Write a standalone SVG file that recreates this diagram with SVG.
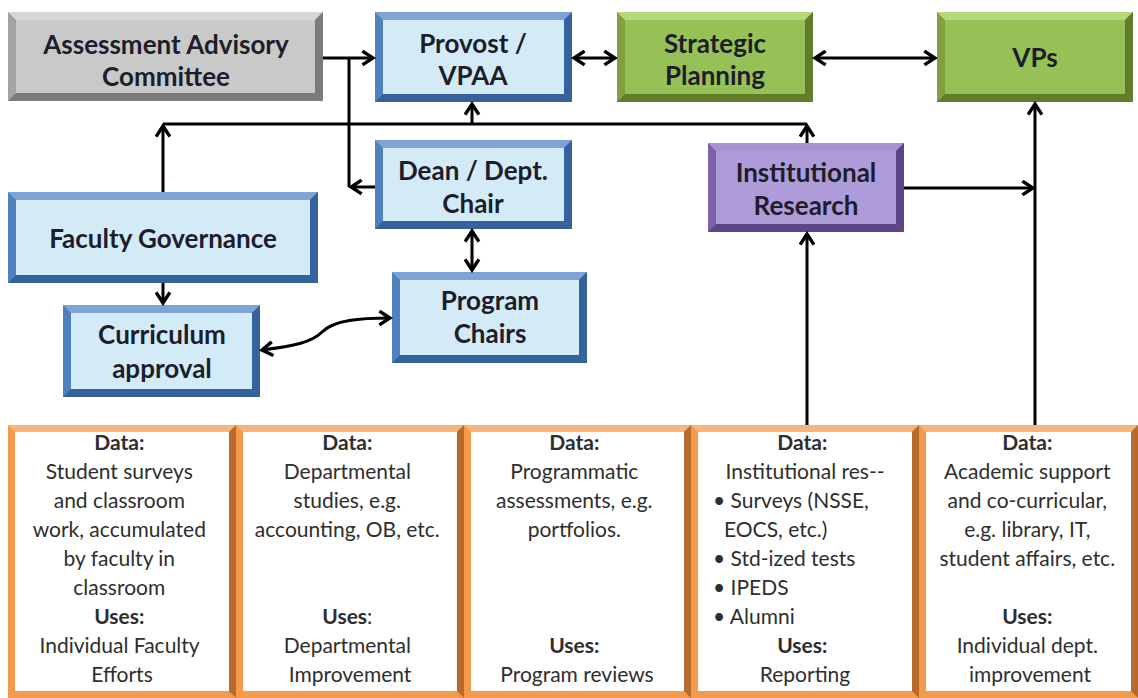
<svg xmlns="http://www.w3.org/2000/svg" width="1138" height="698" viewBox="0 0 1138 698">
  <defs>
    <marker id="ah" viewBox="0 0 16 16" refX="13" refY="8" markerWidth="17" markerHeight="17" markerUnits="userSpaceOnUse" orient="auto-start-reverse">
      <path d="M3,1.5 L13,8 L3,14.5" fill="none" stroke="#000" stroke-width="3.2" stroke-linejoin="miter"/>
    </marker>
  </defs>
  <style>
    .lbl { font-family: Lato, "Liberation Sans", sans-serif; font-weight: 700; font-size: 26px; fill: #1d1d2b; text-anchor: middle; }
    .txt { font-family: Lato, "Liberation Sans", sans-serif; font-size: 21px; fill: #2e2e2e; text-anchor: middle; }
    .txt .h { font-weight: 700; }
    .txt.left { text-anchor: start; }
    .wire { fill: none; stroke: #000; stroke-width: 3; }
    .arr { marker-end: url(#ah); }
    .arr2 { marker-start: url(#ah); marker-end: url(#ah); }
    /* bevelled frames: base, light top edge, dark bottom/right edge, face */
    .blue .base { fill: #4f81bd; } .blue .hi { fill: #7ea4d6; } .blue .lo { fill: #36629c; } .blue .face { fill: #d3ebf6; }
    .gray .base { fill: #a3a3a3; } .gray .hi { fill: #d6d6d6; } .gray .lo { fill: #7a7a7a; } .gray .face { fill: #c9c9c9; }
    .green .base { fill: #7fa043; } .green .hi { fill: #b6d77a; } .green .lo { fill: #5f7d2c; } .green .face { fill: #95c156; }
    .purple .base { fill: #7e62a8; } .purple .hi { fill: #a894cf; } .purple .lo { fill: #5e4586; } .purple .face { fill: #ad9cd8; }
    .orange .base { fill: #f39a4d; } .orange .hi { fill: #f8b47a; } .orange .lo { fill: #b86a2c; } .orange .face { fill: #ffffff; }
  </style>

  <rect width="1138" height="698" fill="#ffffff"/>

  <!-- top row -->
  <g id="assessment-advisory" class="gray">
    <rect class="base" x="8" y="12" width="315" height="89"/>
    <polygon class="hi" points="8,12 323,12 315,20 16,20"/>
    <polygon class="lo" points="8,101 323,101 315,93 16,93"/>
    <polygon class="lo" points="323,12 323,101 315,93 315,20"/>
    <rect class="face" x="16" y="20" width="299" height="73"/>
    <text class="lbl" x="166" y="54">Assessment Advisory</text>
    <text class="lbl" x="166" y="86">Committee</text>
  </g>

  <g id="provost" class="blue">
    <rect class="base" x="375" y="12" width="197" height="90"/>
    <polygon class="hi" points="375,12 572,12 564,20 383,20"/>
    <polygon class="lo" points="375,102 572,102 564,94 383,94"/>
    <polygon class="lo" points="572,12 572,102 564,94 564,20"/>
    <rect class="face" x="383" y="20" width="181" height="74"/>
    <text class="lbl" x="473" y="53">Provost /</text>
    <text class="lbl" x="473" y="85">VPAA</text>
  </g>

  <g id="strategic-planning" class="green">
    <rect class="base" x="617" y="12" width="196" height="90"/>
    <polygon class="hi" points="617,12 813,12 805,20 625,20"/>
    <polygon class="lo" points="617,102 813,102 805,94 625,94"/>
    <polygon class="lo" points="813,12 813,102 805,94 805,20"/>
    <rect class="face" x="625" y="20" width="180" height="74"/>
    <text class="lbl" x="715" y="53">Strategic</text>
    <text class="lbl" x="715" y="85">Planning</text>
  </g>

  <g id="vps" class="green">
    <rect class="base" x="937" y="12" width="196" height="90"/>
    <polygon class="hi" points="937,12 1133,12 1125,20 945,20"/>
    <polygon class="lo" points="937,102 1133,102 1125,94 945,94"/>
    <polygon class="lo" points="1133,12 1133,102 1125,94 1125,20"/>
    <rect class="face" x="945" y="20" width="180" height="74"/>
    <text class="lbl" x="1035" y="67">VPs</text>
  </g>

  <!-- middle -->
  <g id="dean" class="blue">
    <rect class="base" x="375" y="140" width="197" height="89"/>
    <polygon class="hi" points="375,140 572,140 564,148 383,148"/>
    <polygon class="lo" points="375,229 572,229 564,221 383,221"/>
    <polygon class="lo" points="572,140 572,229 564,221 564,148"/>
    <rect class="face" x="383" y="148" width="181" height="73"/>
    <text class="lbl" x="473" y="180">Dean / Dept.</text>
    <text class="lbl" x="473" y="213">Chair</text>
  </g>

  <g id="institutional-research" class="purple">
    <rect class="base" x="708" y="143" width="196" height="89"/>
    <polygon class="hi" points="708,143 904,143 896,151 716,151"/>
    <polygon class="lo" points="708,232 904,232 896,224 716,224"/>
    <polygon class="lo" points="904,143 904,232 896,224 896,151"/>
    <rect class="face" x="716" y="151" width="180" height="73"/>
    <text class="lbl" x="806" y="182">Institutional</text>
    <text class="lbl" x="806" y="215">Research</text>
  </g>

  <g id="faculty-governance" class="blue">
    <rect class="base" x="8" y="192" width="310" height="91"/>
    <polygon class="hi" points="8,192 318,192 310,200 16,200"/>
    <polygon class="lo" points="8,283 318,283 310,275 16,275"/>
    <polygon class="lo" points="318,192 318,283 310,275 310,200"/>
    <rect class="face" x="16" y="200" width="294" height="75"/>
    <text class="lbl" x="163" y="248">Faculty Governance</text>
  </g>

  <g id="curriculum-approval" class="blue">
    <rect class="base" x="63" y="305" width="197" height="92"/>
    <polygon class="hi" points="63,305 260,305 252,313 71,313"/>
    <polygon class="lo" points="63,397 260,397 252,389 71,389"/>
    <polygon class="lo" points="260,305 260,397 252,389 252,313"/>
    <rect class="face" x="71" y="313" width="181" height="76"/>
    <text class="lbl" x="162" y="344">Curriculum</text>
    <text class="lbl" x="162" y="378">approval</text>
  </g>

  <g id="program-chairs" class="blue">
    <rect class="base" x="392" y="272" width="195" height="91"/>
    <polygon class="hi" points="392,272 587,272 579,280 400,280"/>
    <polygon class="lo" points="392,363 587,363 579,355 400,355"/>
    <polygon class="lo" points="587,272 587,363 579,355 579,280"/>
    <rect class="face" x="400" y="280" width="179" height="75"/>
    <text class="lbl" x="490" y="310">Program</text>
    <text class="lbl" x="490" y="343">Chairs</text>
  </g>

  <!-- data sources along the bottom -->
  <g id="data-faculty" class="orange">
    <rect class="base" x="8" y="425" width="228" height="273"/>
    <polygon class="hi" points="8,425 236,425 229,432 15,432"/>
    <polygon class="lo" points="236,425 236,698 229,691 229,432"/>
    <rect class="face" x="15" y="432" width="214" height="259"/>
    <text class="txt" x="122">
      <tspan class="h" x="122" y="450">Data:</tspan>
      <tspan x="122" y="479">Student surveys</tspan>
      <tspan x="122" y="508">and classroom</tspan>
      <tspan x="122" y="537">work, accumulated</tspan>
      <tspan x="122" y="566">by faculty in</tspan>
      <tspan x="122" y="595">classroom</tspan>
      <tspan class="h" x="122" y="624">Uses:</tspan>
      <tspan x="122" y="653">Individual Faculty</tspan>
      <tspan x="122" y="682">Efforts</tspan>
    </text>
  </g>

  <g id="data-department" class="orange">
    <rect class="base" x="236" y="425" width="228" height="273"/>
    <polygon class="hi" points="236,425 464,425 457,432 243,432"/>
    <polygon class="lo" points="464,425 464,698 457,691 457,432"/>
    <rect class="face" x="243" y="432" width="214" height="259"/>
    <text class="txt" x="350">
      <tspan class="h" x="350" y="450">Data:</tspan>
      <tspan x="350" y="479">Departmental</tspan>
      <tspan x="350" y="508">studies, e.g.</tspan>
      <tspan x="350" y="537">accounting, OB, etc.</tspan>
      <tspan x="350" y="624"><tspan class="h">Uses</tspan>:</tspan>
      <tspan x="350" y="653">Departmental</tspan>
      <tspan x="350" y="682">Improvement</tspan>
    </text>
  </g>

  <g id="data-program" class="orange">
    <rect class="base" x="464" y="425" width="227" height="273"/>
    <polygon class="hi" points="464,425 691,425 684,432 471,432"/>
    <polygon class="lo" points="691,425 691,698 684,691 684,432"/>
    <rect class="face" x="471" y="432" width="213" height="259"/>
    <text class="txt" x="577">
      <tspan class="h" x="577" y="450">Data:</tspan>
      <tspan x="577" y="479">Programmatic</tspan>
      <tspan x="577" y="508">assessments, e.g.</tspan>
      <tspan x="577" y="537">portfolios.</tspan>
      <tspan class="h" x="577" y="653">Uses:</tspan>
      <tspan x="577" y="682">Program reviews</tspan>
    </text>
  </g>

  <g id="data-institutional" class="orange">
    <rect class="base" x="691" y="425" width="228" height="273"/>
    <polygon class="hi" points="691,425 919,425 912,432 698,432"/>
    <polygon class="lo" points="919,425 919,698 912,691 912,432"/>
    <rect class="face" x="698" y="432" width="214" height="259"/>
    <text class="txt" x="805">
      <tspan class="h" x="805" y="450">Data:</tspan>
      <tspan x="805" y="479">Institutional res--</tspan>
    </text>
    <text class="txt left" x="713">
      <tspan x="713" y="508">• Surveys (NSSE,</tspan>
      <tspan x="724" y="537">EOCS, etc.)</tspan>
      <tspan x="713" y="566">• Std-ized tests</tspan>
      <tspan x="713" y="595">• IPEDS</tspan>
      <tspan x="713" y="624">• Alumni</tspan>
    </text>
    <text class="txt" x="805">
      <tspan class="h" x="805" y="653">Uses:</tspan>
      <tspan x="805" y="682">Reporting</tspan>
    </text>
  </g>

  <g id="data-support" class="orange">
    <rect class="base" x="919" y="425" width="219" height="273"/>
    <polygon class="hi" points="919,425 1138,425 1131,432 926,432"/>
    <polygon class="lo" points="1138,425 1138,698 1131,691 1131,432"/>
    <rect class="face" x="926" y="432" width="205" height="259"/>
    <text class="txt" x="1030">
      <tspan class="h" x="1030" y="450">Data:</tspan>
      <tspan x="1030" y="479">Academic support</tspan>
      <tspan x="1030" y="508">and co-curricular,</tspan>
      <tspan x="1030" y="537">e.g. library, IT,</tspan>
      <tspan x="1030" y="566">student affairs, etc.</tspan>
      <tspan class="h" x="1030" y="624">Uses:</tspan>
      <tspan x="1030" y="653">Individual dept.</tspan>
      <tspan x="1030" y="682">improvement</tspan>
    </text>
  </g>

  <!-- connectors -->
  <g id="connectors">
    <path class="wire arr" d="M323,58 H373"/>
    <path class="wire" d="M349,58 V187"/>
    <path class="wire arr" d="M375,187 H351"/>
    <path class="wire arr2" d="M574,58 H615"/>
    <path class="wire arr2" d="M815,58 H935"/>
    <path class="wire" d="M163,124 H807"/>
    <path class="wire arr" d="M163,192 V126"/>
    <path class="wire arr" d="M472,124 V104"/>
    <path class="wire arr" d="M807,143 V126"/>
    <path class="wire arr" d="M163,283 V303"/>
    <path class="wire arr2" d="M472,231 V270"/>
    <path class="wire arr2" d="M262,350 C295,346 312,342 322,332 C334,320 360,318 390,318"/>
    <path class="wire arr" d="M904,188 H1033"/>
    <path class="wire arr" d="M1035,425 V104"/>
    <path class="wire arr" d="M807,425 V234"/>
  </g>
</svg>
